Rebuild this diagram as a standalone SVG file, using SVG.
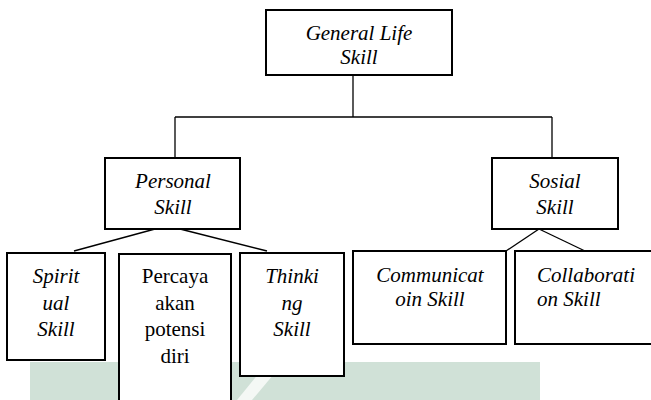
<svg xmlns="http://www.w3.org/2000/svg" width="651" height="400" viewBox="0 0 651 400">
<style>
.box{fill:#fff;stroke:#000;stroke-width:2}
.t{font-family:"Liberation Serif","Times New Roman",serif;font-size:21px;fill:#000;text-anchor:middle}
.i{font-style:italic}
.l{text-anchor:start}
.c{stroke:#000;stroke-width:1.3;fill:none}
</style>
<rect width="651" height="400" fill="#fff"/>
<g id="watermark">
<rect x="30" y="362" width="510" height="40" fill="#d0e1d7"/>
<polygon points="237,400 252,400 284,362 268,362" fill="#f4f8f5"/>
</g>
<g id="connectors">
<line class="c" x1="353" y1="75" x2="353" y2="117"/>
<line class="c" x1="175" y1="117" x2="552" y2="117"/>
<line class="c" x1="175" y1="117" x2="175" y2="158"/>
<line class="c" x1="552" y1="117" x2="552" y2="158"/>
<line class="c" x1="155" y1="229" x2="74" y2="251"/>
<line class="c" x1="180" y1="229" x2="267" y2="251"/>
<line class="c" x1="539" y1="229" x2="506" y2="251"/>
<line class="c" x1="539" y1="229" x2="585" y2="251"/>
</g>
<g id="general">
<rect class="box" x="266" y="10" width="186" height="65"/>
<text class="t i" x="359" y="40">General Life</text>
<text class="t i" x="359" y="64">Skill</text>
</g>
<g id="personal">
<rect class="box" x="105" y="158" width="135" height="71"/>
<text class="t i" x="173" y="188">Personal</text>
<text class="t i" x="173" y="214">Skill</text>
</g>
<g id="sosial">
<rect class="box" x="492" y="158" width="126" height="71"/>
<text class="t i" x="555" y="188">Sosial</text>
<text class="t i" x="555" y="214">Skill</text>
</g>
<g id="spiritual">
<rect class="box" x="7" y="253" width="98" height="107"/>
<text class="t i" x="56" y="283">Spirit</text>
<text class="t i" x="56" y="310">ual</text>
<text class="t i" x="56" y="336">Skill</text>
</g>
<g id="percaya">
<rect class="box" x="119" y="254" width="112" height="170"/>
<text class="t" x="175" y="283">Percaya</text>
<text class="t" x="175" y="310">akan</text>
<text class="t" x="175" y="336">potensi</text>
<text class="t" x="175" y="363">diri</text>
</g>
<g id="thinking">
<rect class="box" x="240" y="253" width="104" height="123"/>
<text class="t i" x="292" y="283">Thinki</text>
<text class="t i" x="292" y="310">ng</text>
<text class="t i" x="292" y="336">Skill</text>
</g>
<g id="communication">
<rect class="box" x="353" y="251" width="153" height="93"/>
<text class="t i" x="430" y="282">Communicat</text>
<text class="t i" x="430" y="306">oin Skill</text>
</g>
<g id="collaboration">
<rect class="box" x="515" y="251" width="150" height="93"/>
<text class="t i l" x="537" y="282">Collaborati</text>
<text class="t i l" x="537" y="306">on Skill</text>
</g>
</svg>
